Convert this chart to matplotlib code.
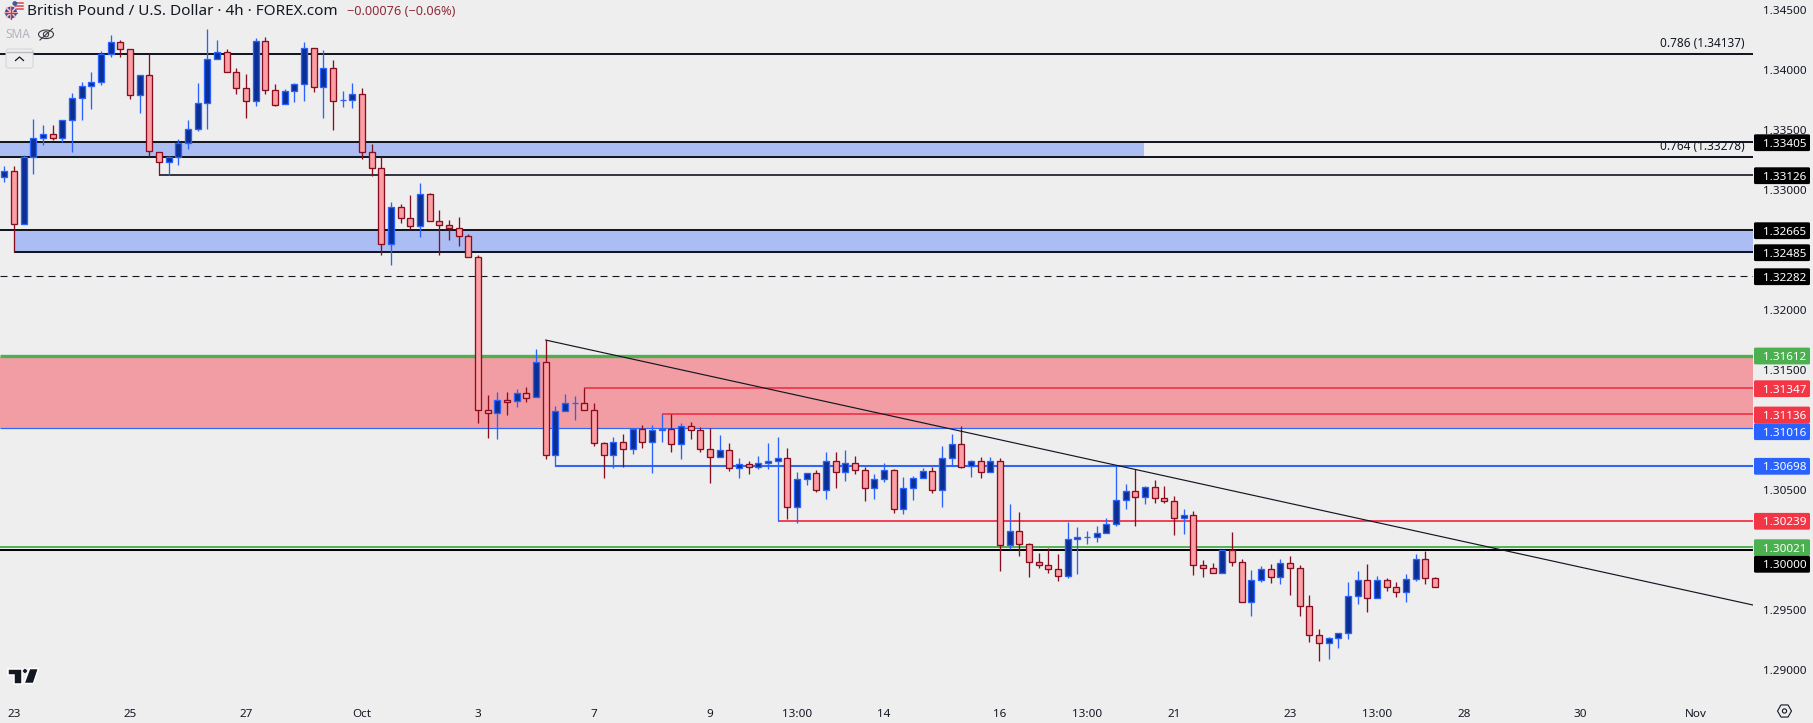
import numpy as np
import matplotlib
matplotlib.use("Agg")
import matplotlib.pyplot as plt
import matplotlib.patches as mpatches
import matplotlib.transforms as mtransforms

# --- Data (GBP/USD 4h) ---
opens = [1.33107, 1.33163, 1.32715, 1.33274, 1.33432, 1.33471, 1.33438, 1.33582, 1.33766, 1.33866,
         1.33899, 1.34133, 1.34233, 1.34175, 1.33791, 1.33958, 1.33321, 1.33232, 1.33274, 1.33391,
         1.33507, 1.33724, 1.34091, 1.34150, 1.33983, 1.33849, 1.33741, 1.34241, 1.33833, 1.33716,
         1.33824, 1.33883, 1.34183, 1.33858, 1.34016, 1.33749, 1.33749, 1.33799, 1.33316, 1.33182,
         1.32548, 1.32857, 1.32765, 1.32698, 1.32965, 1.32740, 1.32707, 1.32682, 1.32615, 1.32440,
         1.31164, 1.31139, 1.31247, 1.31239, 1.31306, 1.31272, 1.31564, 1.30789, 1.31155, 1.31222,
         1.31222, 1.31164, 1.30889, 1.30789, 1.30897, 1.30839, 1.31005, 1.30897, 1.30997, 1.31005,
         1.30880, 1.31030, 1.30997, 1.30839, 1.30772, 1.30830, 1.30680, 1.30713, 1.30688, 1.30722,
         1.30738, 1.30763, 1.30355, 1.30588, 1.30638, 1.30497, 1.30738, 1.30647, 1.30722, 1.30663,
         1.30513, 1.30588, 1.30663, 1.30338, 1.30513, 1.30597, 1.30655, 1.30497, 1.30763, 1.30880,
         1.30697, 1.30738, 1.30647, 1.30738, 1.30038, 1.30155, 1.30046, 1.29896, 1.29871, 1.29838,
         1.29779, 1.30088, 1.30105, 1.30105, 1.30138, 1.30213, 1.30413, 1.30488, 1.30438, 1.30522,
         1.30430, 1.30405, 1.30263, 1.30288, 1.29871, 1.29846, 1.29804, 1.29996, 1.29896, 1.29563,
         1.29746, 1.29838, 1.29771, 1.29888, 1.29846, 1.29529, 1.29287, 1.29221, 1.29262, 1.29304,
         1.29613, 1.29746, 1.29596, 1.29746, 1.29688, 1.29646, 1.29754, 1.29921, 1.29763]
highs = [1.33202, 1.33202, 1.33293, 1.33594, 1.33543, 1.33543, 1.33582, 1.33808, 1.33899, 1.33986,
         1.34161, 1.34294, 1.34252, 1.34175, 1.33958, 1.34133, 1.33321, 1.33288, 1.33427, 1.33585,
         1.33891, 1.34344, 1.34252, 1.34175, 1.34016, 1.33969, 1.34272, 1.34277, 1.33885, 1.33844,
         1.33891, 1.34236, 1.34183, 1.34169, 1.34086, 1.33827, 1.33894, 1.33852, 1.33385, 1.33277,
         1.32901, 1.32885, 1.32957, 1.33060, 1.32974, 1.32835, 1.32751, 1.32773, 1.32632, 1.32459,
         1.31292, 1.31317, 1.31317, 1.31342, 1.31358, 1.31675, 1.31750, 1.31200, 1.31300, 1.31283,
         1.31350, 1.31225, 1.30897, 1.30939, 1.30964, 1.31005, 1.31039, 1.31039, 1.31133, 1.31130,
         1.31055, 1.31064, 1.31022, 1.31014, 1.30955, 1.30889, 1.30763, 1.30738, 1.30780, 1.30889,
         1.30939, 1.30847, 1.30647, 1.30638, 1.30663, 1.30816, 1.30816, 1.30833, 1.30783, 1.30688,
         1.30633, 1.30722, 1.30675, 1.30605, 1.30613, 1.30680, 1.30688, 1.30866, 1.30966, 1.31033,
         1.30747, 1.30772, 1.30772, 1.30763, 1.30383, 1.30316, 1.30055, 1.29974, 1.30013, 1.29966,
         1.30233, 1.30191, 1.30157, 1.30199, 1.30266, 1.30705, 1.30549, 1.30672, 1.30533, 1.30583,
         1.30533, 1.30449, 1.30341, 1.30324, 1.29916, 1.29891, 1.29996, 1.30149, 1.29921, 1.29829,
         1.29863, 1.29879, 1.29924, 1.29949, 1.29871, 1.29624, 1.29337, 1.29271, 1.29304, 1.29729,
         1.29824, 1.29882, 1.29782, 1.29763, 1.29729, 1.29799, 1.29966, 1.29991, 1.29774]
lows = [1.33071, 1.32487, 1.32715, 1.33135, 1.33377, 1.33418, 1.33404, 1.33321, 1.33585, 1.33677,
        1.33880, 1.34113, 1.34113, 1.33763, 1.33646, 1.33285, 1.33126, 1.33126, 1.33210, 1.33346,
        1.33496, 1.33513, 1.34091, 1.33983, 1.33805, 1.33605, 1.33702, 1.33805, 1.33705, 1.33716,
        1.33738, 1.33746, 1.33821, 1.33605, 1.33505, 1.33696, 1.33688, 1.33263, 1.33115, 1.32462,
        1.32379, 1.32729, 1.32676, 1.32612, 1.32740, 1.32462, 1.32587, 1.32537, 1.32440, 1.31061,
        1.30936, 1.30928, 1.31125, 1.31194, 1.31236, 1.31272, 1.30761, 1.30700, 1.31155, 1.31086,
        1.31164, 1.30869, 1.30602, 1.30686, 1.30694, 1.30802, 1.30852, 1.30644, 1.30902, 1.30819,
        1.30761, 1.30928, 1.30819, 1.30561, 1.30772, 1.30661, 1.30602, 1.30636, 1.30677, 1.30677,
        1.30239, 1.30260, 1.30227, 1.30544, 1.30485, 1.30427, 1.30519, 1.30577, 1.30636, 1.30410,
        1.30427, 1.30569, 1.30310, 1.30302, 1.30419, 1.30597, 1.30477, 1.30360, 1.30700, 1.30686,
        1.30611, 1.30602, 1.30647, 1.29827, 1.30007, 1.29952, 1.29777, 1.29852, 1.29810, 1.29743,
        1.29768, 1.29802, 1.30052, 1.30066, 1.30138, 1.30202, 1.30341, 1.30202, 1.30385, 1.30394,
        1.30394, 1.30124, 1.30132, 1.29790, 1.29777, 1.29804, 1.29804, 1.29868, 1.29563, 1.29451,
        1.29735, 1.29727, 1.29715, 1.29624, 1.29451, 1.29234, 1.29076, 1.29093, 1.29184, 1.29260,
        1.29551, 1.29485, 1.29596, 1.29660, 1.29610, 1.29565, 1.29743, 1.29718, 1.29688]
closes = [1.33163, 1.32715, 1.33274, 1.33432, 1.33471, 1.33438, 1.33582, 1.33766, 1.33866, 1.33899,
          1.34133, 1.34233, 1.34175, 1.33791, 1.33958, 1.33324, 1.33232, 1.33274, 1.33391, 1.33507,
          1.33724, 1.34091, 1.34150, 1.33983, 1.33849, 1.33741, 1.34241, 1.33833, 1.33713, 1.33824,
          1.33883, 1.34183, 1.33858, 1.34016, 1.33741, 1.33749, 1.33799, 1.33316, 1.33182, 1.32548,
          1.32857, 1.32765, 1.32698, 1.32965, 1.32740, 1.32707, 1.32682, 1.32615, 1.32440, 1.31164,
          1.31139, 1.31247, 1.31236, 1.31306, 1.31269, 1.31564, 1.30789, 1.31155, 1.31222, 1.31222,
          1.31164, 1.30889, 1.30789, 1.30897, 1.30839, 1.31005, 1.30897, 1.30997, 1.31005, 1.30880,
          1.31030, 1.30997, 1.30839, 1.30772, 1.30830, 1.30680, 1.30713, 1.30688, 1.30722, 1.30738,
          1.30763, 1.30355, 1.30588, 1.30638, 1.30497, 1.30738, 1.30647, 1.30722, 1.30663, 1.30513,
          1.30588, 1.30663, 1.30338, 1.30513, 1.30597, 1.30655, 1.30497, 1.30763, 1.30880, 1.30694,
          1.30738, 1.30647, 1.30738, 1.30038, 1.30155, 1.30046, 1.29896, 1.29871, 1.29838, 1.29779,
          1.30088, 1.30105, 1.30105, 1.30138, 1.30213, 1.30413, 1.30488, 1.30438, 1.30522, 1.30430,
          1.30405, 1.30263, 1.30288, 1.29871, 1.29846, 1.29804, 1.29996, 1.29896, 1.29563, 1.29746,
          1.29838, 1.29771, 1.29888, 1.29846, 1.29529, 1.29287, 1.29221, 1.29262, 1.29304, 1.29613,
          1.29746, 1.29596, 1.29746, 1.29688, 1.29646, 1.29754, 1.29921, 1.29763, 1.29688]

price_ticks = [1.29, 1.295, 1.30, 1.305, 1.31, 1.315, 1.32, 1.325, 1.33, 1.335, 1.34, 1.345]
hidden_ticks = [1.325, 1.31, 1.30]  # covered by price tags in the reference
time_tick_bars = [1, 13, 25, 37, 49, 61, 73, 82, 91, 103, 112, 121, 133, 142, 151, 163, 175]
time_tick_labels = ["23", "25", "27", "Oct", "3", "7", "9", "13:00", "14", "16", "13:00",
                    "21", "23", "13:00", "28", "30", "Nov"]

# level, first bar (0 = from the left edge)
level_prices = [1.34137, 1.33405, 1.33278, 1.33126, 1.32665, 1.32485, 1.31347, 1.31136, 1.30698, 1.30239, 1.30021, 1.30000]
level_starts = [0, 0, 0, 16, 0, 1, 60, 68, 57, 80, 0, 0]
trend_bars = [56, 180.9]
trend_prices = [1.31750, 1.29540]

# price tags on the axis
tag_values = ["1.33405", "1.33126", "1.32665", "1.32485", "1.32282", "1.31612", "1.31347",
              "1.31136", "1.31016", "1.30698", "1.30239", "1.30021", "1.30000"]
tag_colors = ["black"] * 5 + ["green", "red", "red", "blue", "blue", "red", "green", "black"]

# --- Style ---
BG = "#eeeeee"
INK = "#131722"
UP_FILL, UP_EDGE = "#0c2f93", "#2962ff"
DOWN_FILL, DOWN_EDGE = "#fb9fa4", "#880e1f"
RED, GREEN, BLUE = "#f23f55", "#4caf50", "#2f66f5"
TAG_HEX = {"black": "#000000", "green": "#4caf50", "red": "#f23645", "blue": "#2962ff"}
TAG_PX = [142.7, 175.7, 230.7, 252.7, 276.7, 356, 388.7, 415, 431.7, 466.3, 521.3, 547.7, 564.3]
LEVEL_STYLE = [(INK, 1.45), (INK, 1.45), (INK, 1.45), (INK, 1.2), (INK, 1.45), (INK, 1.45),
               (RED, 1.4), (RED, 1.4), (BLUE, 1.5), (RED, 1.4), (GREEN, 1.35), ("#000000", 1.45)]

W, H = 1813, 723
BAR_PX = 9.667
X0_PX = 4.4
PX_PER_PRICE = 11990.0
PLOT_R, PLOT_B = 1753, 697
FONT = "Noto Sans"
TICK_SIZE = 8.4

plt.rcParams["font.family"] = [FONT, "DejaVu Sans"]

fig = plt.figure(figsize=(W / 100, H / 100), dpi=100, facecolor=BG)
ax = fig.add_axes([0, (H - PLOT_B) / H, PLOT_R / W, PLOT_B / H], facecolor=BG)
ax.set_xlim(-X0_PX / BAR_PX, (PLOT_R - X0_PX) / BAR_PX)
ax.set_ylim(1.34 - (PLOT_B - 70.3) / PX_PER_PRICE, 1.34 + 70.3 / PX_PER_PRICE)
for s in ax.spines.values():
    s.set_visible(False)

# pixel coordinates from top-left, for the chart furniture
pix = mtransforms.Affine2D().scale(1 / W, -1 / H).translate(0, 1) + fig.transFigure
x_start, x_end = ax.get_xlim()

# --- Zones ---
ax.axhspan(1.33278, 1.33405, xmin=0, xmax=(1143.5 / PLOT_R), color="#abbdf2", lw=0, zorder=1)
ax.fill_between([1, x_end], 1.32485, 1.32665, color="#abbdf2", lw=0, zorder=1)
ax.axhspan(1.31016, 1.31612, color="#f19da3", lw=0, zorder=1)

# --- Levels ---
for price, start, (col, lw) in zip(level_prices, level_starts, LEVEL_STYLE):
    left = start if start > 0 else x_start
    ax.plot([left, x_end], [price, price], color=col, lw=lw, zorder=2, solid_capstyle="butt")
ax.plot([x_start, x_end], [1.32282, 1.32282], color=INK, lw=0.8, ls=(0, (6.3, 4.5)), zorder=2)
ax.plot([x_start, x_end], [1.31618, 1.31618], color=GREEN, lw=2.4, zorder=2, solid_capstyle="butt")
ax.plot([x_start, x_end], [1.31016, 1.31016], color=BLUE, lw=0.85, zorder=2, solid_capstyle="butt")

# --- Candles ---
o = np.array(opens)
h = np.array(highs)
l = np.array(lows)
c = np.array(closes)
bars = np.arange(len(o))
up = c >= o
ax.vlines(bars[up], l[up], h[up], color=UP_EDGE, lw=0.95, zorder=3)
ax.vlines(bars[~up], l[~up], h[~up], color=DOWN_EDGE, lw=0.95, zorder=3)
body_w = 0.62
ax.bar(bars[up], (c - o)[up], bottom=o[up], width=body_w, color=UP_FILL, edgecolor=UP_EDGE, lw=0.95, zorder=4)
ax.bar(bars[~up], (o - c)[~up], bottom=c[~up], width=body_w, color=DOWN_FILL, edgecolor=DOWN_EDGE, lw=0.95, zorder=4)

# --- Trend line ---
ax.plot(trend_bars, trend_prices, color=INK, lw=0.85, zorder=5)

# --- Fib labels ---
for label, price in [("0.786 (1.34137)", 1.34137), ("0.764 (1.33278)", 1.33278)]:
    ax.annotate(label, xy=(x_end, price), xytext=(-8, 10.5), textcoords="offset pixels",
                ha="right", va="center", fontsize=8.5, color=INK, zorder=6)

# --- Axes ticks ---
shown = [p for p in price_ticks if p not in hidden_ticks]
ax.yaxis.tick_right()
ax.set_yticks(shown)
ax.set_yticklabels([f"{p:.5f}" for p in shown])
ax.set_xticks(time_tick_bars)
ax.set_xticklabels(time_tick_labels)
ax.tick_params(axis="y", length=0, pad=7.2, labelsize=TICK_SIZE, labelcolor=INK)
ax.tick_params(axis="x", length=0, pad=8.3, labelsize=TICK_SIZE, labelcolor=INK)
for t in ax.get_xticklabels():
    if t.get_text() in ("Oct", "Nov"):
        t.set_fontweight("semibold")

# --- Price tags ---
for text, col, y in zip(tag_values, tag_colors, TAG_PX):
    fig.add_artist(mpatches.FancyBboxPatch((1755, y - 7.4), 54, 14.8, boxstyle="round,pad=1,rounding_size=1.5",
                                           fc=TAG_HEX[col], ec="none", transform=pix, zorder=4))
    fig.text(1763, y, text, transform=pix, color="white", fontsize=TICK_SIZE, ha="left", va="center_baseline",
             fontweight="semibold", zorder=5)

# --- Header ---
fig.text(27, 11.5, "British Pound / U.S. Dollar · 4h · FOREX.com", transform=pix, color=INK,
         fontsize=11.0, ha="left", va="center", zorder=5)
fig.text(347, 11.5, "−0.00076 (−0.06%)", transform=pix, color="#8e2b3a", fontsize=9.2,
         ha="left", va="center", zorder=5)
fig.text(5, 35, "SMA", transform=pix, color="#b2b5be", fontsize=8.6, ha="left", va="center", zorder=5)

# flags
uk = mpatches.Circle((11, 12.5), 6, fc="#2f4f9e", ec="none", transform=pix, zorder=5)
fig.add_artist(uk)
us = mpatches.Circle((17.7, 5.7), 5.2, fc="#f2f2f2", ec="none", transform=pix, zorder=4)
fig.add_artist(us)
for yy in (2.5, 5.5, 8.5):
    s = plt.Line2D([14.5, 22.5], [yy, yy], color="#d9434f", lw=1.1, transform=pix, zorder=4.5)
    fig.add_artist(s)
fig.add_artist(mpatches.Circle((14.8, 3.5), 2.4, fc="#3b5ba8", ec="none", transform=pix, zorder=4.6))
for pts in ([(6.8, 8.3), (15.2, 16.7)], [(6.8, 16.7), (15.2, 8.3)], [(5, 12.5), (17, 12.5)], [(11, 6.5), (11, 18.5)]):
    xs, ys = zip(*pts)
    fig.add_artist(plt.Line2D(xs, ys, color="#f3b5b8", lw=1.3, transform=pix, zorder=5.5))
for pts in ([(5, 12.5), (17, 12.5)], [(11, 6.5), (11, 18.5)]):
    xs, ys = zip(*pts)
    fig.add_artist(plt.Line2D(xs, ys, color="#d0343f", lw=0.8, transform=pix, zorder=5.6))

# eye icon
fig.add_artist(mpatches.Ellipse((46, 34.3), 15, 8.5, fc="none", ec="#3a3d45", lw=0.8, transform=pix, zorder=5))
fig.add_artist(mpatches.Circle((46, 34.3), 2.6, fc="none", ec="#3a3d45", lw=0.8, transform=pix, zorder=5))
fig.add_artist(plt.Line2D([40, 52.5], [40, 28.5], color="#3a3d45", lw=0.8, transform=pix, zorder=5))

# collapse button
fig.add_artist(mpatches.FancyBboxPatch((6, 49), 27, 19, boxstyle="round,pad=0,rounding_size=2.5",
                                       fc=BG, ec="#d3d6dc", lw=0.8, transform=pix, zorder=4))
fig.add_artist(plt.Line2D([6.5, 32.5], [52.2, 52.2], color="#b9bbc0", lw=1.0, transform=pix, zorder=5))
fig.add_artist(plt.Line2D([15.5, 19.5, 23.5], [60.5, 57, 60.5], color=INK, lw=0.9, transform=pix, zorder=5))

# TradingView mark
halo = dict(fc=INK, ec="white", lw=1.1, transform=pix, zorder=5, joinstyle="miter")
fig.add_artist(mpatches.Polygon([(7.5, 668.5), (21.5, 668.5), (21.5, 683.5), (14, 683.5), (14, 675), (7.5, 675)], **halo))
fig.add_artist(mpatches.Polygon([(29.5, 668.5), (38.5, 668.5), (33.5, 683.5), (24, 683.5)], **halo))
fig.add_artist(mpatches.Circle((25, 671), 2.4, fc=INK, ec="white", lw=0.6, transform=pix, zorder=5.5))

# settings hexagon
fig.add_artist(mpatches.RegularPolygon((1784.5, 711), 6, radius=7, orientation=np.pi / 2, fc="none",
                                       ec=INK, lw=0.8, transform=pix, zorder=5))
fig.add_artist(mpatches.Circle((1784.5, 711), 2.1, fc="none", ec=INK, lw=0.8, transform=pix, zorder=5))

fig.savefig("out.png", dpi=100, facecolor=BG)
plt.close(fig)
